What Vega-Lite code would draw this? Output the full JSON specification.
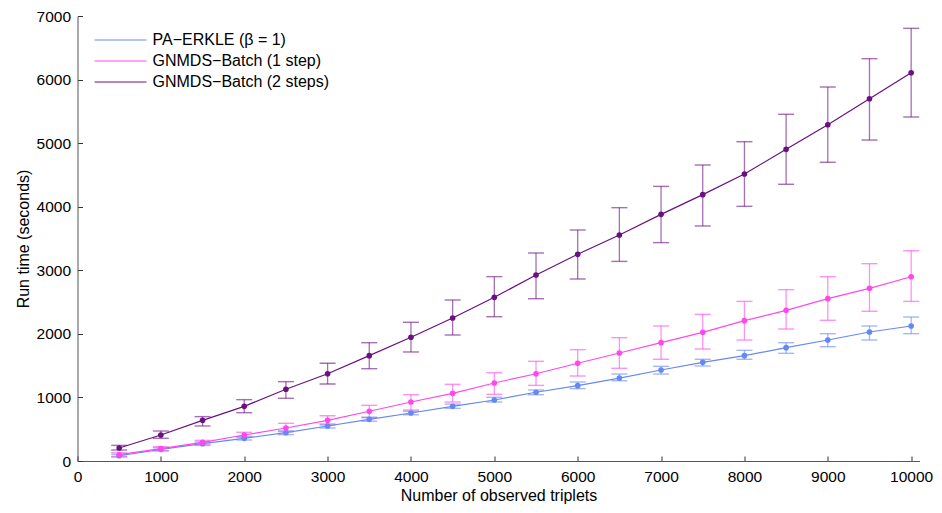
{
  "$schema": "https://vega.github.io/schema/vega-lite/v6.json",
  "width": 842,
  "height": 445,
  "autosize": {"type": "none"},
  "padding": {"left": 77.5, "top": 16, "right": 22.5, "bottom": 52},
  "background": "white",
  "config": {
    "view": {"stroke": null},
    "font": "Liberation Sans",
    "axis": {
      "grid": false,
      "domainColor": "#555555",
      "tickColor": "#333333",
      "tickSize": -5,
      "labelFont": "Liberation Sans",
      "labelFontSize": 15.5,
      "labelColor": "#000000",
      "titleFont": "Liberation Sans",
      "titleFontSize": 16,
      "titleFontWeight": "normal",
      "titleColor": "#000000"
    }
  },
  "data": {
    "values": [
      {"series": "PA−ERKLE (β = 1)", "n": 500, "t": 83, "lo": 63, "hi": 103},
      {"series": "PA−ERKLE (β = 1)", "n": 1000, "t": 184, "lo": 160, "hi": 208},
      {"series": "PA−ERKLE (β = 1)", "n": 1500, "t": 272, "lo": 245, "hi": 300},
      {"series": "PA−ERKLE (β = 1)", "n": 2000, "t": 357, "lo": 330, "hi": 385},
      {"series": "PA−ERKLE (β = 1)", "n": 2500, "t": 445, "lo": 415, "hi": 475},
      {"series": "PA−ERKLE (β = 1)", "n": 3000, "t": 551, "lo": 520, "hi": 582},
      {"series": "PA−ERKLE (β = 1)", "n": 3500, "t": 656, "lo": 625, "hi": 690},
      {"series": "PA−ERKLE (β = 1)", "n": 4000, "t": 755, "lo": 728, "hi": 782},
      {"series": "PA−ERKLE (β = 1)", "n": 4500, "t": 860, "lo": 828, "hi": 895},
      {"series": "PA−ERKLE (β = 1)", "n": 5000, "t": 960, "lo": 928, "hi": 1002},
      {"series": "PA−ERKLE (β = 1)", "n": 5500, "t": 1081, "lo": 1043, "hi": 1117},
      {"series": "PA−ERKLE (β = 1)", "n": 6000, "t": 1185, "lo": 1138, "hi": 1243},
      {"series": "PA−ERKLE (β = 1)", "n": 6500, "t": 1305, "lo": 1263, "hi": 1368},
      {"series": "PA−ERKLE (β = 1)", "n": 7000, "t": 1431, "lo": 1368, "hi": 1489},
      {"series": "PA−ERKLE (β = 1)", "n": 7500, "t": 1552, "lo": 1494, "hi": 1600},
      {"series": "PA−ERKLE (β = 1)", "n": 8000, "t": 1657, "lo": 1600, "hi": 1741},
      {"series": "PA−ERKLE (β = 1)", "n": 8500, "t": 1783, "lo": 1694, "hi": 1861},
      {"series": "PA−ERKLE (β = 1)", "n": 9000, "t": 1903, "lo": 1798, "hi": 2003},
      {"series": "PA−ERKLE (β = 1)", "n": 9500, "t": 2029, "lo": 1903, "hi": 2124},
      {"series": "PA−ERKLE (β = 1)", "n": 10000, "t": 2124, "lo": 2003, "hi": 2265},
      {"series": "GNMDS−Batch (1 step)", "n": 500, "t": 99, "lo": 70, "hi": 130},
      {"series": "GNMDS−Batch (1 step)", "n": 1000, "t": 194, "lo": 162, "hi": 225},
      {"series": "GNMDS−Batch (1 step)", "n": 1500, "t": 293, "lo": 262, "hi": 325},
      {"series": "GNMDS−Batch (1 step)", "n": 2000, "t": 409, "lo": 372, "hi": 451},
      {"series": "GNMDS−Batch (1 step)", "n": 2500, "t": 519, "lo": 461, "hi": 593},
      {"series": "GNMDS−Batch (1 step)", "n": 3000, "t": 640, "lo": 566, "hi": 712},
      {"series": "GNMDS−Batch (1 step)", "n": 3500, "t": 782, "lo": 681, "hi": 876},
      {"series": "GNMDS−Batch (1 step)", "n": 4000, "t": 928, "lo": 802, "hi": 1043},
      {"series": "GNMDS−Batch (1 step)", "n": 4500, "t": 1065, "lo": 928, "hi": 1206},
      {"series": "GNMDS−Batch (1 step)", "n": 5000, "t": 1227, "lo": 1049, "hi": 1389},
      {"series": "GNMDS−Batch (1 step)", "n": 5500, "t": 1373, "lo": 1190, "hi": 1568},
      {"series": "GNMDS−Batch (1 step)", "n": 6000, "t": 1537, "lo": 1337, "hi": 1751},
      {"series": "GNMDS−Batch (1 step)", "n": 6500, "t": 1699, "lo": 1458, "hi": 1940},
      {"series": "GNMDS−Batch (1 step)", "n": 7000, "t": 1861, "lo": 1600, "hi": 2124},
      {"series": "GNMDS−Batch (1 step)", "n": 7500, "t": 2024, "lo": 1762, "hi": 2307},
      {"series": "GNMDS−Batch (1 step)", "n": 8000, "t": 2207, "lo": 1903, "hi": 2511},
      {"series": "GNMDS−Batch (1 step)", "n": 8500, "t": 2370, "lo": 2076, "hi": 2695},
      {"series": "GNMDS−Batch (1 step)", "n": 9000, "t": 2553, "lo": 2213, "hi": 2899},
      {"series": "GNMDS−Batch (1 step)", "n": 9500, "t": 2716, "lo": 2355, "hi": 3104},
      {"series": "GNMDS−Batch (1 step)", "n": 10000, "t": 2899, "lo": 2511, "hi": 3308},
      {"series": "GNMDS−Batch (2 steps)", "n": 500, "t": 204, "lo": 173, "hi": 246},
      {"series": "GNMDS−Batch (2 steps)", "n": 1000, "t": 409, "lo": 357, "hi": 472},
      {"series": "GNMDS−Batch (2 steps)", "n": 1500, "t": 640, "lo": 551, "hi": 698},
      {"series": "GNMDS−Batch (2 steps)", "n": 2000, "t": 860, "lo": 760, "hi": 965},
      {"series": "GNMDS−Batch (2 steps)", "n": 2500, "t": 1128, "lo": 986, "hi": 1248},
      {"series": "GNMDS−Batch (2 steps)", "n": 3000, "t": 1373, "lo": 1211, "hi": 1537},
      {"series": "GNMDS−Batch (2 steps)", "n": 3500, "t": 1657, "lo": 1452, "hi": 1861},
      {"series": "GNMDS−Batch (2 steps)", "n": 4000, "t": 1946, "lo": 1715, "hi": 2182},
      {"series": "GNMDS−Batch (2 steps)", "n": 4500, "t": 2250, "lo": 1982, "hi": 2533},
      {"series": "GNMDS−Batch (2 steps)", "n": 5000, "t": 2575, "lo": 2270, "hi": 2900},
      {"series": "GNMDS−Batch (2 steps)", "n": 5500, "t": 2926, "lo": 2553, "hi": 3272},
      {"series": "GNMDS−Batch (2 steps)", "n": 6000, "t": 3251, "lo": 2863, "hi": 3634},
      {"series": "GNMDS−Batch (2 steps)", "n": 6500, "t": 3555, "lo": 3140, "hi": 3985},
      {"series": "GNMDS−Batch (2 steps)", "n": 7000, "t": 3880, "lo": 3435, "hi": 4320},
      {"series": "GNMDS−Batch (2 steps)", "n": 7500, "t": 4190, "lo": 3697, "hi": 4656},
      {"series": "GNMDS−Batch (2 steps)", "n": 8000, "t": 4515, "lo": 4006, "hi": 5023},
      {"series": "GNMDS−Batch (2 steps)", "n": 8500, "t": 4903, "lo": 4353, "hi": 5454},
      {"series": "GNMDS−Batch (2 steps)", "n": 9000, "t": 5290, "lo": 4699, "hi": 5883},
      {"series": "GNMDS−Batch (2 steps)", "n": 9500, "t": 5699, "lo": 5049, "hi": 6329},
      {"series": "GNMDS−Batch (2 steps)", "n": 10000, "t": 6108, "lo": 5411, "hi": 6806}
    ]
  },
  "encoding": {
    "x": {
      "field": "n", "type": "quantitative",
      "scale": {"domain": [0, 10100], "nice": false, "zero": false},
      "axis": {"values": [0,1000,2000,3000,4000,5000,6000,7000,8000,9000,10000], "format": "d", "title": "Number of observed triplets", "labelPadding": 13, "titlePadding": 3, "labelFlush": false}
    }
  },
  "layer": [
    {
      "mark": {"type": "line", "strokeWidth": 1.2},
      "encoding": {
        "y": {
          "field": "t", "type": "quantitative",
          "scale": {"domain": [0, 7000], "nice": false},
          "axis": {"values": [0,1000,2000,3000,4000,5000,6000,7000], "format": "d", "title": "Run time (seconds)", "labelPadding": 12, "titlePadding": 5, "labelFlush": false}
        },
        "color": {
          "field": "series", "type": "nominal",
          "scale": {
            "domain": ["PA−ERKLE (β = 1)", "GNMDS−Batch (1 step)", "GNMDS−Batch (2 steps)"],
            "range": ["#6688f2", "#ff48ec", "#6a1082"]
          },
          "legend": {
            "orient": "none", "legendX": 16, "legendY": 16,
            "title": null,
            "symbolType": "stroke", "symbolSize": 2700, "symbolStrokeWidth": 1.2, "symbolOpacity": 1,
            "clipHeight": 16,
            "labelFont": "Liberation Sans", "labelFontSize": 16, "labelColor": "#000000",
            "labelLimit": 400,
            "rowPadding": 5, "labelOffset": 5
          }
        }
      }
    },
    {
      "mark": {"type": "rule", "strokeWidth": 1.3, "opacity": 0.6},
      "encoding": {
        "y": {"field": "lo", "type": "quantitative"},
        "y2": {"field": "hi"},
        "color": {"field": "series", "type": "nominal", "legend": null}
      }
    },
    {
      "mark": {"type": "tick", "orient": "horizontal", "size": 16, "thickness": 1.4, "opacity": 0.6},
      "encoding": {
        "y": {"field": "lo", "type": "quantitative"},
        "color": {"field": "series", "type": "nominal", "legend": null}
      }
    },
    {
      "mark": {"type": "tick", "orient": "horizontal", "size": 16, "thickness": 1.4, "opacity": 0.6},
      "encoding": {
        "y": {"field": "hi", "type": "quantitative"},
        "color": {"field": "series", "type": "nominal", "legend": null}
      }
    },
    {
      "mark": {"type": "point", "filled": true, "size": 32, "opacity": 1},
      "encoding": {
        "y": {"field": "t", "type": "quantitative"},
        "color": {"field": "series", "type": "nominal", "legend": null}
      }
    }
  ]
}
